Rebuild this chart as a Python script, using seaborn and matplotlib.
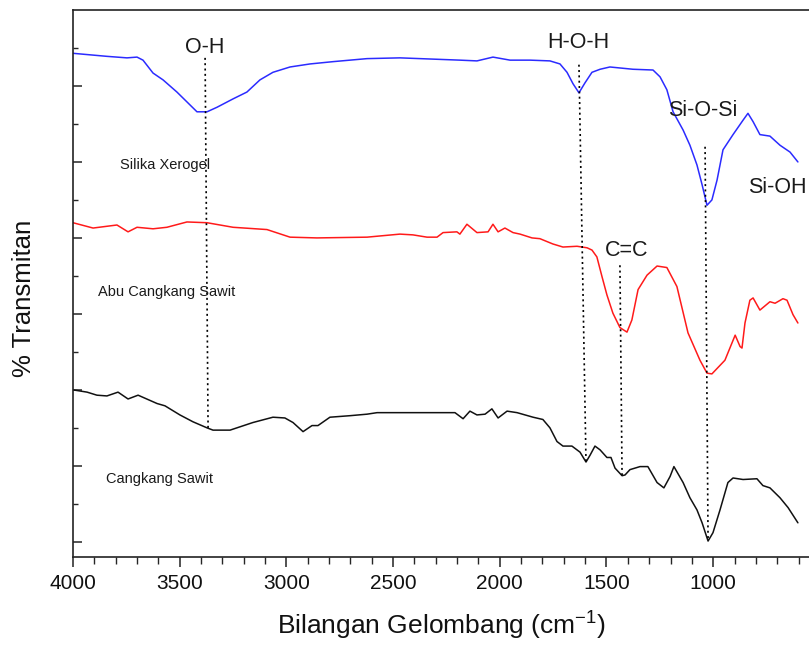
import numpy as np
import pandas as pd
import matplotlib
matplotlib.use("Agg")
import matplotlib.pyplot as plt
from matplotlib.ticker import MultipleLocator
import seaborn as sns

# ---------------- data ----------------
# Silika Xerogel (blue)
xerogel_wn = [4000, 3841, 3747, 3700, 3672, 3625, 3578, 3513, 3466, 3419, 3372, 3325,
              3250, 3185, 3124, 3063, 2983, 2889, 2782, 2702, 2622, 2468, 2187, 2107,
              2032, 1952, 1858, 1765, 1718, 1685, 1657, 1629, 1601, 1568, 1530, 1484,
              1376, 1282, 1249, 1217, 1188, 1141, 1109, 1076, 1052, 1029, 1006, 982,
              954, 907, 860, 837, 813, 781, 734, 687, 640, 603]
xerogel_t = [64.3, 63.9, 63.7, 63.8, 63.4, 61.7, 60.8, 59.2, 57.9, 56.6, 56.6, 57.2,
             58.3, 59.2, 60.8, 61.8, 62.5, 62.9, 63.2, 63.4, 63.6, 63.7, 63.4, 63.3,
             63.8, 63.4, 63.4, 63.3, 62.9, 61.8, 60.3, 59.1, 60.4, 61.8, 62.2, 62.5,
             62.2, 62.1, 61.2, 59.5, 56.6, 54.2, 52.2, 49.6, 47.0, 44.3, 45.0, 47.6,
             51.6, 53.6, 55.5, 56.4, 55.3, 53.6, 53.4, 52.2, 51.3, 50.0]

# Abu Cangkang Sawit (red)
abu_wn = [4000, 3906, 3794, 3742, 3700, 3625, 3560, 3466, 3372, 3250, 3091, 2983,
          2857, 2622, 2468, 2407, 2341, 2294, 2266, 2201, 2187, 2154, 2107, 2055,
          2032, 2008, 1976, 1938, 1905, 1849, 1812, 1751, 1704, 1638, 1591, 1568,
          1545, 1521, 1498, 1470, 1437, 1404, 1381, 1352, 1310, 1263, 1217, 1170,
          1118, 1062, 1029, 1006, 945, 897, 874, 865, 851, 828, 813, 781, 734, 710,
          673, 654, 626, 603]
abu_t = [42.0, 41.3, 41.7, 40.8, 41.4, 41.2, 41.4, 42.1, 42.0, 41.4, 41.1, 40.1,
         40.0, 40.1, 40.5, 40.4, 40.1, 40.1, 40.7, 40.8, 40.5, 41.8, 40.7, 40.8,
         41.8, 40.8, 41.3, 40.7, 40.5, 40.0, 39.9, 39.2, 38.8, 38.9, 38.7, 38.4,
         37.5, 34.9, 32.5, 30.1, 28.2, 27.6, 29.2, 33.2, 35.1, 36.3, 36.1, 33.6,
         27.5, 23.9, 22.2, 22.1, 23.9, 27.2, 25.7, 25.5, 28.8, 31.8, 32.1, 30.5,
         31.6, 31.4, 32.0, 31.8, 29.9, 28.8]

# Cangkang Sawit (black)
sawit_wn = [4000, 3934, 3888, 3841, 3789, 3742, 3695, 3606, 3569, 3499, 3438, 3372,
            3344, 3264, 3157, 3063, 3007, 2969, 2922, 2880, 2852, 2796, 2702, 2622,
            2575, 2468, 2266, 2210, 2172, 2140, 2107, 2069, 2037, 2008, 1966, 1919,
            1844, 1798, 1765, 1732, 1704, 1662, 1624, 1596, 1577, 1554, 1530, 1498,
            1479, 1460, 1427, 1413, 1390, 1343, 1306, 1263, 1231, 1202, 1184, 1141,
            1109, 1076, 1052, 1024, 1001, 968, 931, 907, 860, 795, 767, 734, 687,
            649, 603]
sawit_t = [20.0, 19.7, 19.3, 19.2, 19.7, 18.8, 19.3, 18.2, 17.9, 16.7, 15.8, 15.0,
           14.7, 14.7, 15.7, 16.4, 16.3, 15.7, 14.5, 15.3, 15.3, 16.4, 16.6, 16.8,
           17.0, 17.0, 17.0, 17.0, 16.2, 17.2, 16.7, 16.8, 17.5, 16.3, 17.2, 17.0,
           16.4, 16.1, 15.0, 13.2, 12.6, 12.6, 11.8, 10.5, 11.4, 12.6, 12.1, 11.1,
           11.1, 9.7, 8.7, 8.8, 9.5, 9.9, 9.9, 7.8, 7.1, 8.6, 9.9, 7.8,
           5.8, 4.2, 2.5, 0.1, 1.2, 4.2, 7.8, 8.4, 8.2, 8.3, 7.4, 7.1, 5.8,
           4.5, 2.5]

# Peak marker lines (dotted): wavenumber / transmittance at top and bottom end
peak_names = ["O-H", "H-O-H", "C=C", "Si-O-Si"]
peak_wn_top = [3381, 1629, 1437, 1038]
peak_wn_bottom = [3367, 1596, 1427, 1024]
peak_t_top = [63.7, 62.8, 36.4, 52.0]
peak_t_bottom = [15.0, 10.5, 8.7, 0.1]

series_names = ["Silika Xerogel", "Abu Cangkang Sawit", "Cangkang Sawit"]
series_colors = ["#2b2bff", "#ff1a1a", "#111111"]

# ---------------- figure ----------------
sns.set_theme(style="ticks")
plt.rcParams["font.family"] = ["Liberation Sans", "DejaVu Sans"]
plt.rcParams["mathtext.fontset"] = "custom"
plt.rcParams["mathtext.rm"] = "Liberation Sans"
plt.rcParams["mathtext.it"] = "Liberation Sans"

fig = plt.figure(figsize=(8.09, 6.46), dpi=100)
ax = fig.add_axes([73 / 809, 1 - 557 / 646, 1 - 73 / 809, (557 - 10) / 646])

frames = []
for name, wn, t in zip(series_names,
                       [xerogel_wn, abu_wn, sawit_wn],
                       [xerogel_t, abu_t, sawit_t]):
    frames.append(pd.DataFrame({"wn": wn, "T": t, "sample": name}))
df = pd.concat(frames, ignore_index=True)

sns.lineplot(data=df, x="wn", y="T", hue="sample", hue_order=series_names,
             palette=series_colors, estimator=None, sort=True, lw=1.1,
             legend=False, ax=ax)

# dotted guide lines
for wt, wb, tt, tb in zip(peak_wn_top, peak_wn_bottom, peak_t_top, peak_t_bottom):
    ax.plot([wt, wb], [tt, tb], color="black", lw=1.2, ls=(0, (1.2, 2.0)))

ax.set_xlim(4000, 551)
ax.set_ylim(-2, 70)

ax.xaxis.set_major_locator(MultipleLocator(500))
ax.xaxis.set_minor_locator(MultipleLocator(100))
ax.yaxis.set_major_locator(MultipleLocator(10))
ax.yaxis.set_minor_locator(MultipleLocator(5))
ax.set_yticks(np.arange(0, 61, 10))
ax.set_yticks(np.arange(5, 66, 10), minor=True)

ax.tick_params(axis="x", which="major", direction="out", length=7, width=1.1,
               labelsize=15, pad=5, colors="#222222")
ax.tick_params(axis="x", which="minor", direction="out", length=5, width=1.0)
ax.tick_params(axis="y", which="major", direction="in", length=6.5, width=1.1,
               labelleft=False)
ax.tick_params(axis="y", which="minor", direction="in", length=3.8, width=1.0)
for lab in ax.get_xticklabels():
    lab.set_color("#111111")

for side in ["left", "bottom", "top"]:
    ax.spines[side].set_linewidth(1.2)
    ax.spines[side].set_color("#222222")
ax.spines["right"].set_visible(False)

ax.set_xlabel("Bilangan Gelombang (cm$^{-1}$)", fontsize=19, color="#111111")
ax.xaxis.label.set_va("baseline")
ax.xaxis.set_label_coords(0.5, (557 - 635) / 547)
ax.set_ylabel("% Transmitan", fontsize=18.5, color="#111111")
ax.yaxis.label.set_va("center")
ax.yaxis.set_label_coords((24 - 73) / 736, (557 - 298) / 547)

# peak labels
txt_kw = dict(fontsize=15.5, color="#1a1a1a", ha="center", va="center")
ax.text(3381, 65.0, "O-H", **txt_kw)
ax.text(1634, 65.7, "H-O-H", **txt_kw)
ax.text(1048, 56.8, "Si-O-Si", **txt_kw)
ax.text(701, 46.7, "Si-OH", **txt_kw)
ax.text(1404, 38.4, "C=C", **txt_kw)

# sample labels
s_kw = dict(fontsize=10.5, color="#1a1a1a", ha="left", va="center")
ax.text(3780, 49.6, series_names[0], **s_kw)
ax.text(3883, 32.9, series_names[1], **s_kw)
ax.text(3845, 8.3, series_names[2], **s_kw)

fig.savefig("out.png", dpi=100)
